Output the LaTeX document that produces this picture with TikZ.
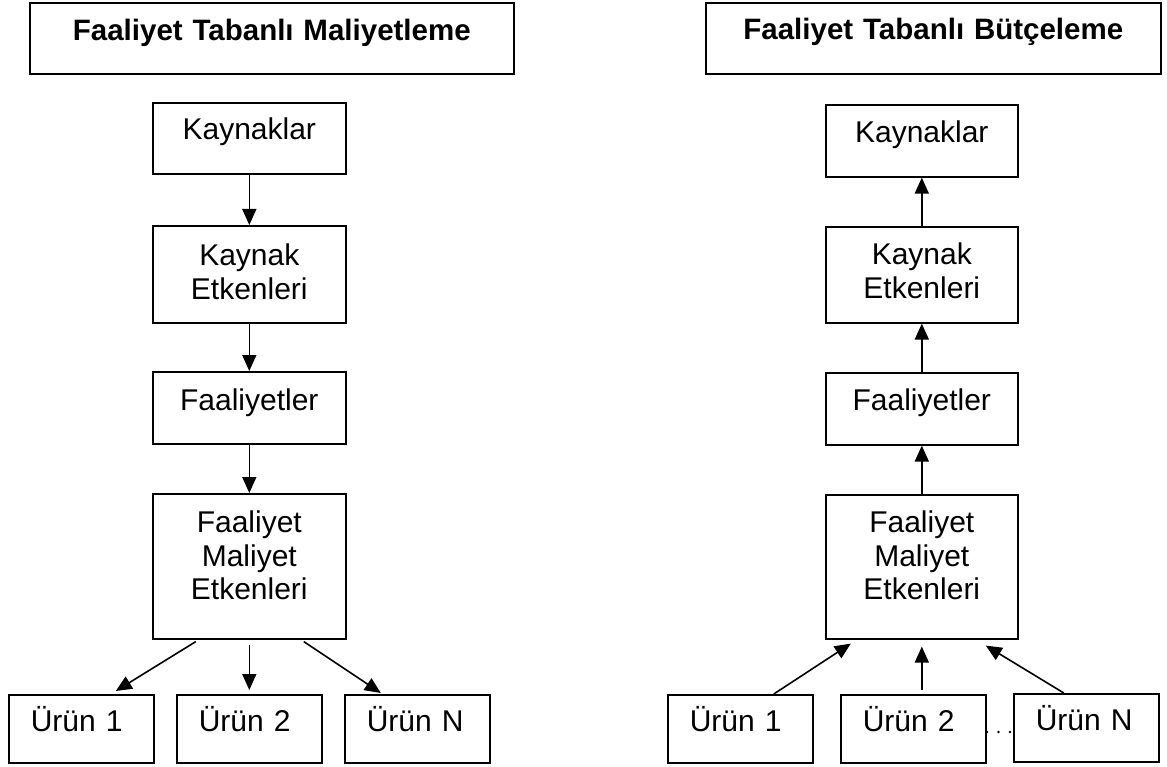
\documentclass[tikz,border=0pt]{standalone}
\usepackage{fontspec}
\setmainfont{Liberation Sans}
\usetikzlibrary{arrows.meta}
\tikzset{
  box/.style={draw, line width=1.6pt, fill=white, inner sep=0pt, align=center,
    font=\fontsize{30}{33.5}\selectfont, anchor=north west},
  ttl/.style={box, font=\bfseries\fontsize{29.5}{34}\selectfont},
  colbox/.style={box, text width=193pt},
  urun/.style={box, align=left, inner xsep=22pt, text width=101pt, text height=37pt, text depth=31pt},
  arr/.style={line width=1.6pt, -{Triangle[length=16pt,width=14pt]}}
}
\begin{document}
\begin{tikzpicture}[x=1pt,y=-1pt]
\useasboundingbox (0,0) rectangle (1167,767);
% titles
\node[ttl, text width=484pt, text height=38pt, text depth=33pt] (lt) at (29,2) {Faaliyet Tabanlı Maliyetleme};
\node[ttl, text width=455pt, text height=37pt, text depth=34pt] (rt) at (705,2) {Faaliyet Tabanlı Bütçeleme};
% left column
\node[colbox, text height=37pt, text depth=34pt] (lk) at (152,102) {Kaynaklar};
\node[colbox, text height=40pt, text depth=57pt] (lke) at (152,225) {Kaynak\\Etkenleri};
\node[colbox, text height=39pt, text depth=33pt] (lf) at (152,371) {Faaliyetler};
\node[colbox, text height=39pt, text depth=106pt] (lfme) at (152,493) {Faaliyet\\Maliyet\\Etkenleri};
\node[urun] (lu1) at (8,694) {Ürün 1};
\node[urun] (lu2) at (176,694) {Ürün 2};
\node[urun] (lun) at (344,694) {Ürün N};
% right column
\node[colbox, text width=192pt, text height=38pt, text depth=34pt] (rk) at (825,104) {Kaynaklar};
\node[colbox, text width=192pt, text height=38pt, text depth=58pt] (rke) at (825,226) {Kaynak\\Etkenleri};
\node[colbox, text width=192pt, text height=38pt, text depth=34pt] (rf) at (825,372) {Faaliyetler};
\node[colbox, text width=192pt, text height=38pt, text depth=106pt] (rfme) at (825,494) {Faaliyet\\Maliyet\\Etkenleri};
\node[urun] (ru1) at (667,694) {Ürün 1};
\node[urun] (ru2) at (840,694) {Ürün 2};
\node[urun] (run) at (1013,693) {Ürün N};
% left arrows
\draw[arr] (lk.south) -- (lke.north);
\draw[arr] (lke.south) -- (lf.north);
\draw[arr] (lf.south) -- (lfme.north);
\draw[arr] ([xshift=-53.5pt,yshift=-2pt]lfme.south) -- ([xshift=34.5pt,yshift=3pt]lu1.north);
\draw[arr] ([yshift=-5pt]lfme.south) -- ([yshift=4pt]lu2.north);
\draw[arr] ([xshift=54.5pt,yshift=-2pt]lfme.south) -- ([xshift=-36.5pt,yshift=1pt]lun.north);
% right arrows
\draw[arr] (rke.north) -- (rk.south);
\draw[arr] (rf.north) -- (rke.south);
\draw[arr] (rfme.north) -- (rf.south);
\draw[arr] ([xshift=33.5pt]ru1.north) -- ([xshift=-71pt,yshift=-4pt]rfme.south);
\draw[arr] ([xshift=8.5pt,yshift=4pt]ru2.north) -- ([yshift=-7pt]rfme.south);
\draw[arr] ([xshift=-22.5pt]run.north) -- ([xshift=64pt,yshift=-6pt]rfme.south);
% dots
\fill (987,732) circle (1.4pt);
\fill (998.5,732) circle (1.4pt);
\fill (1010,732) circle (1.4pt);
\end{tikzpicture}
\end{document}
